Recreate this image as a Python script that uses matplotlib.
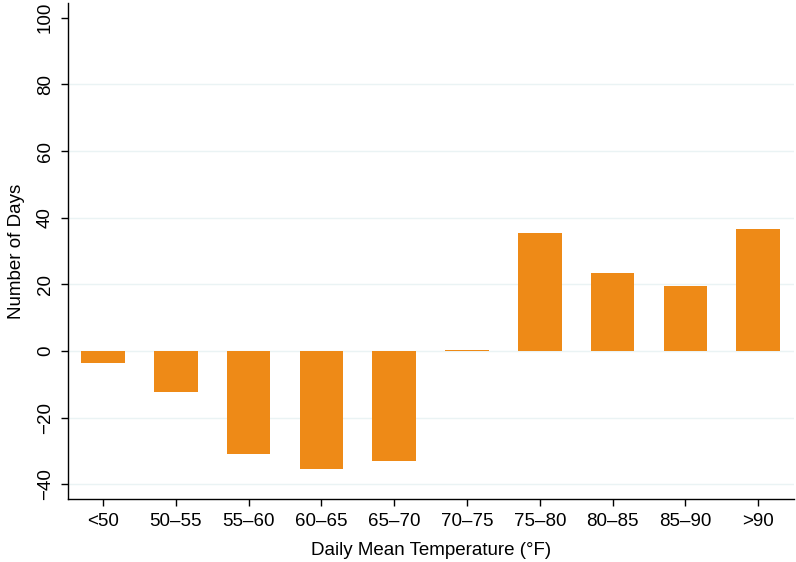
import matplotlib
matplotlib.use('Agg')
from matplotlib import pyplot as plt

# data
categories = ['<50', '50\u201355', '55\u201360', '60\u201365', '65\u201370',
              '70\u201375', '75\u201380', '80\u201385', '85\u201390', '>90']
days = [-3.6, -12.3, -31.0, -35.4, -33.0, 0.3, 35.4, 23.5, 19.5, 36.6]
yticks = [-40, -20, 0, 20, 40, 60, 80, 100]

plt.rcParams['font.family'] = ['Liberation Sans', 'DejaVu Sans']

fig = plt.figure(figsize=(7.96, 5.62), dpi=100)
ax = fig.add_axes([0.0854, 0.1126, 0.912, 0.882])

# light grid lines
for y in yticks[:-1]:
    ax.axhline(y, color='#EAF3F4', lw=1.0, zorder=0)

x = list(range(len(categories)))
ax.bar(x, days, width=0.6, color='#EE8A17', zorder=2)

ax.set_xlim(-0.48, 9.49)
ax.set_ylim(-44.3, 104.4)
ax.set_xticks(x)
ax.set_xticklabels(categories)
ax.set_yticks(yticks)
ax.set_yticklabels([str(v).replace('-', '\u2212') for v in yticks],
                   rotation=90, va='center')

ax.spines['top'].set_visible(False)
ax.spines['right'].set_visible(False)
for s in ['left', 'bottom']:
    ax.spines[s].set_linewidth(1.0)
    ax.spines[s].set_color('black')
ax.tick_params(axis='both', direction='out', length=5, width=1.0,
               labelsize=13.5, colors='black')
ax.tick_params(axis='x', pad=5)
ax.tick_params(axis='y', pad=5)

ax.set_xlabel('Daily Mean Temperature (\u00b0F)', fontsize=13.5, labelpad=9)
ax.set_ylabel('Number of Days', fontsize=13.5, labelpad=9)

fig.savefig('out.png', dpi=100)
